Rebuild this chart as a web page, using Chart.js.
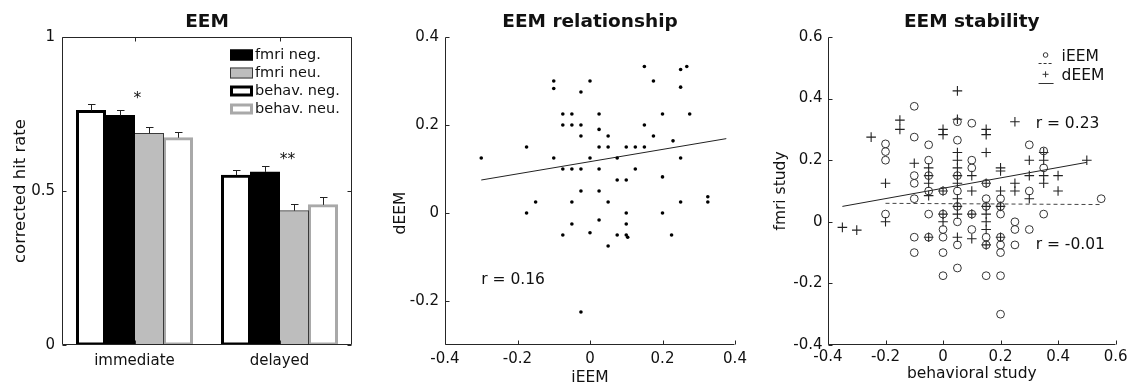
<!DOCTYPE html>
<html>
<head>
<meta charset="utf-8">
<script src="https://cdn.jsdelivr.net/npm/chart.js@4.4.1/dist/chart.umd.min.js"></script>
<style>
  body { margin: 0; background: #fff; }
  #wrap { position: relative; width: 1131px; height: 387px; }
  canvas { position: absolute; top: 0; }
</style>
</head>
<body>
<div id="wrap">
  <canvas id="eem" width="377" height="387" style="left:0"></canvas>
  <canvas id="rel" width="377" height="387" style="left:377px"></canvas>
  <canvas id="stab" width="377" height="387" style="left:754px"></canvas>
</div>
<script>
// --- panel 1: EEM bars
const groups = ['immediate', 'delayed']
const behavNeg = [0.761, 0.551]
const fmriNeg = [0.745, 0.562]
const fmriNeu = [0.687, 0.436]
const behavNeu = [0.673, 0.455]
const behavNegErr = [0.021, 0.017]
const fmriNegErr = [0.019, 0.019]
const fmriNeuErr = [0.020, 0.023]
const behavNeuErr = [0.020, 0.026]
const eemTicks = [0, 0.5, 1]
const starText = ['*', '**']
const starX = [0.02, 1.055]
const starY = [0.8, 0.6]

// --- panel 2: EEM relationship
const relX = [-0.3, -0.175, -0.175, -0.15, -0.1, -0.1, -0.1, -0.075, -0.075, -0.075, -0.075,
  -0.05, -0.05, -0.05, -0.05, -0.05, -0.025, -0.025, -0.025, -0.025, -0.025, -0.025,
  0, 0, 0, 0.025, 0.025, 0.025, 0.025, 0.025, 0.025, 0.05, 0.05, 0.05, 0.05,
  0.075, 0.075, 0.075, 0.1, 0.1, 0.1, 0.1, 0.1, 0.104, 0.125, 0.125, 0.15, 0.15, 0.15,
  0.175, 0.175, 0.2, 0.2, 0.2, 0.225, 0.229, 0.25, 0.267, 0.25, 0.25, 0.25, 0.275, 0.325, 0.325]
const relY = [0.125, 0.15, 0, 0.025, 0.3, 0.283, 0.125, 0.225, 0.2, 0.1, -0.05,
  0.225, 0.2, 0.1, 0.025, -0.025, 0.275, 0.2, 0.175, 0.1, 0.05, -0.225,
  0.3, 0.125, -0.045, 0.225, 0.19, 0.15, 0.1, 0.05, -0.016, 0.175, 0.15, 0.025, -0.075,
  0.125, 0.075, -0.05, 0.15, 0.075, 0, -0.025, -0.05, -0.055, 0.15, 0.1, 0.333, 0.2, 0.15,
  0.3, 0.175, 0.225, 0.082, 0, -0.05, 0.164, 0.326, 0.333, 0.286, 0.125, 0.025, 0.225, 0.037, 0.025]
const relFitX = [-0.3, 0.376]
const relFitY = [0.075, 0.169]
const relXTicks = [-0.4, -0.2, 0, 0.2, 0.4]
const relYTicks = [-0.2, 0, 0.2, 0.4]

// --- panel 3: EEM stability
const stabIX = [-0.2, -0.2, -0.2, -0.2,
  -0.1, -0.1, -0.1, -0.1, -0.1, -0.1, -0.1,
  -0.05, -0.05, -0.05, -0.05, -0.05, -0.05,
  0, 0, 0, 0, 0, 0,
  0.05, 0.05, 0.05, 0.05, 0.05, 0.05, 0.05, 0.05,
  0.1, 0.1, 0.1, 0.1, 0.1,
  0.15, 0.15, 0.15, 0.15, 0.15, 0.15,
  0.2, 0.2, 0.2, 0.2, 0.2, 0.2, 0.2, 0.2,
  0.25, 0.25, 0.25, 0.3, 0.3, 0.3, 0.35, 0.35, 0.35, 0.55]
const stabIY = [0.253, 0.228, 0.2, 0.025,
  0.375, 0.275, 0.15, 0.125, 0.075, -0.05, -0.1,
  0.25, 0.2, 0.15, 0.1, 0.025, -0.05,
  0.1, 0.025, -0.025, -0.05, -0.1, -0.175,
  0.325, 0.265, 0.15, 0.1, 0.05, 0, -0.075, -0.15,
  0.32, 0.2, 0.175, 0.025, -0.025,
  0.125, 0.075, 0.05, -0.05, -0.075, -0.175,
  0.075, 0.05, 0.025, -0.05, -0.075, -0.1, -0.175, -0.3,
  0, -0.025, -0.075, 0.25, 0.1, -0.025, 0.23, 0.175, 0.025, 0.075]
const stabDX = [-0.35, -0.3, -0.25, -0.2, -0.2, -0.15, -0.15, -0.1,
  -0.05, -0.05, -0.05, -0.05, -0.05,
  0, 0, 0, 0, 0,
  0.05, 0.05, 0.05, 0.05, 0.05, 0.05, 0.05, 0.05, 0.05, 0.05, 0.05,
  0.1, 0.1, 0.1, 0.1,
  0.15, 0.15, 0.15, 0.15, 0.15, 0.15, 0.15, 0.15, 0.15,
  0.2, 0.2, 0.2, 0.2, 0.2,
  0.25, 0.25, 0.25, 0.3, 0.3, 0.3, 0.35, 0.35, 0.35, 0.35, 0.4, 0.4, 0.5]
const stabDY = [-0.018, -0.027, 0.275, 0.125, 0, 0.33, 0.3, 0.19,
  0.175, 0.15, 0.125, 0.085, -0.05,
  0.3, 0.283, 0.1, 0.025, 0,
  0.425, 0.333, 0.225, 0.2, 0.175, 0.15, 0.125, 0.075, 0.05, 0.025, -0.05,
  0.15, 0.1, 0.025, -0.055,
  0.3, 0.283, 0.225, 0.125, 0.05, 0.025, 0, -0.025, -0.075,
  0.175, 0.165, 0.1, 0.05, -0.05,
  0.325, 0.125, 0.1, 0.2, 0.15, 0.075, 0.225, 0.2, 0.15, 0.125, 0.15, 0.1, 0.2]
const stabFitIX = [-0.2, 0.55]
const stabFitIY = [0.06, 0.056]
const stabFitDX = [-0.35, 0.5]
const stabFitDY = [0.05, 0.193]
const stabTicks = [-0.4, -0.2, 0, 0.2, 0.4, 0.6]

const FONT = "'DejaVu Sans', sans-serif"
const INK = '#111'
Chart.defaults.font.family = FONT
Chart.defaults.color = INK
Chart.defaults.animation = false
Chart.defaults.plugins.legend.display = false
Chart.defaults.plugins.tooltip.enabled = false

const pts = (xs, ys) => xs.map((x, i) => ({x: x, y: ys[i]}))

// matlab-like axes, error bars, text notes and legends
const matlab = {
  id: 'matlab',
  afterDatasetsDraw(chart) {
    const {ctx, scales: {y}} = chart
    ctx.save()
    ctx.strokeStyle = '#222'
    ctx.lineWidth = 1
    chart.data.datasets.forEach((ds, di) => {
      if (!ds.errors) return
      chart.getDatasetMeta(di).data.forEach((bar, i) => {
        const bx = Math.round(bar.x) + 0.5
        const top = Math.round(y.getPixelForValue(ds.data[i] + ds.errors[i])) + 0.5
        ctx.beginPath()
        ctx.moveTo(bx, bar.y)
        ctx.lineTo(bx, top)
        ctx.moveTo(bx - 3.5, top)
        ctx.lineTo(bx + 4, top)
        ctx.stroke()
      })
    })
    ctx.restore()
  },
  afterDraw(chart, args, o) {
    const {ctx, chartArea: a, scales: {x, y}} = chart
    ctx.save()
    ctx.strokeStyle = '#262626'
    ctx.lineWidth = 1
    const L = Math.floor(a.left) + 0.5, R = Math.ceil(a.right) - 0.5
    const T = Math.floor(a.top) + 0.5, B = Math.ceil(a.bottom) - 0.5
    const tl = 4
    ctx.beginPath()
    ctx.moveTo(L, T); ctx.lineTo(L, B); ctx.lineTo(R, B)
    if (o.box) { ctx.lineTo(R, T); ctx.lineTo(L, T) }
    x.ticks.forEach((t, i) => {
      const px = Math.round(x.getPixelForTick(i)) + 0.5
      ctx.moveTo(px, B); ctx.lineTo(px, B - tl)
      if (o.box) { ctx.moveTo(px, T); ctx.lineTo(px, T + tl) }
    })
    y.ticks.forEach((t, i) => {
      const py = Math.round(y.getPixelForTick(i)) + 0.5
      ctx.moveTo(L, py); ctx.lineTo(L + tl, py)
      if (o.box) { ctx.moveTo(R, py); ctx.lineTo(R - tl, py) }
    })
    ctx.stroke()

    ctx.fillStyle = INK
    ctx.textBaseline = 'middle';
    (o.notes || []).forEach(n => {
      ctx.font = n.font || '15.5px ' + FONT
      ctx.textAlign = n.align || 'left'
      const px = n.px !== undefined ? n.px : x.getPixelForValue(n.x)
      const py = y.getPixelForValue(n.y)
      ctx.save()
      ctx.translate(px, py)
      if (n.rot) ctx.rotate(-Math.PI / 2)
      ctx.fillText(n.text, 0, 0)
      ctx.restore()
    })
    if (o.legend) o.legend(chart, ctx, a)
    ctx.restore()
  }
}

function linScale(min, max, ticks, opts) {
  return {
    type: 'linear', min: min, max: max,
    grid: {display: false, drawTicks: false},
    border: {display: false},
    afterBuildTicks: s => { s.ticks = ticks.map(v => ({value: v})) },
    ticks: {
      callback: v => String(v), autoSkip: false, maxRotation: 0,
      font: {size: 15}, color: INK, padding: opts.pad
    },
    title: opts.title || {display: false},
    afterFit: opts.fit
  }
}

const titleFont = {size: 18.5, weight: 'bold', family: FONT}
const titleOpts = text => ({
  display: true, text: text, fullSize: false, font: titleFont, color: INK,
  padding: {top: 11, bottom: 3.8}
})

// ---------- panel 1
const legendOrder = [1, 2, 0, 3]
new Chart(document.getElementById('eem'), {
  type: 'bar',
  data: {
    labels: groups,
    datasets: [
      {label: 'behav. neg.', data: behavNeg, errors: behavNegErr, backgroundColor: '#fff', borderColor: '#000', borderWidth: 3},
      {label: 'fmri neg.', data: fmriNeg, errors: fmriNegErr, backgroundColor: '#000', borderColor: '#000', borderWidth: 1},
      {label: 'fmri neu.', data: fmriNeu, errors: fmriNeuErr, backgroundColor: '#bdbdbd', borderColor: '#3a3a3a', borderWidth: 1},
      {label: 'behav. neu.', data: behavNeu, errors: behavNeuErr, backgroundColor: '#fff', borderColor: '#a9a9a9', borderWidth: 3}
    ]
  },
  options: {
    responsive: false,
    layout: {padding: {left: 0, right: 25, top: 0, bottom: 0}},
    datasets: {bar: {categoryPercentage: 0.8, barPercentage: 1, borderSkipped: false, inflateAmount: 0.5}},
    scales: {
      x: {
        grid: {display: false, drawTicks: false},
        border: {display: false},
        ticks: {font: {size: 15}, color: INK, padding: 7.5, maxRotation: 0},
        afterFit: s => { s.height = 42 }
      },
      y: linScale(0, 1, eemTicks, {
        pad: 7,
        title: {display: true, text: 'corrected hit rate', font: {size: 16.5}, color: INK, padding: {top: 10.9, bottom: 0}},
        fit: s => { s.width = 62 }
      })
    },
    plugins: {
      title: titleOpts('EEM'),
      matlab: {
        box: true,
        notes: starText.map((t, i) => ({text: t, x: starX[i], y: starY[i], align: 'center'})),
        legend(chart, ctx, a) {
          ctx.font = '14.5px ' + FONT
          ctx.textAlign = 'left'
          ctx.textBaseline = 'middle'
          legendOrder.forEach((di, k) => {
            const ds = chart.data.datasets[di]
            const cy = Math.round(a.top + 17.5 + k * 18.3)
            const sx = a.right - 122, sw = 23, sh = 11
            const bw = ds.borderWidth
            ctx.fillStyle = ds.backgroundColor
            ctx.fillRect(sx, cy - sh / 2, sw, sh)
            ctx.lineWidth = bw
            ctx.strokeStyle = ds.borderColor
            ctx.strokeRect(sx + bw / 2, cy - sh / 2 + bw / 2, sw - bw, sh - bw)
            ctx.fillStyle = INK
            ctx.fillText(ds.label, sx + sw + 2, cy)
          })
        }
      }
    }
  },
  plugins: [matlab]
})

// ---------- panel 2
new Chart(document.getElementById('rel'), {
  type: 'scatter',
  data: {
    datasets: [
      {data: pts(relX, relY), pointRadius: 1.8, backgroundColor: '#000', borderWidth: 0},
      {data: pts(relFitX, relFitY), showLine: true, pointRadius: 0, borderColor: '#222', borderWidth: 1}
    ]
  },
  options: {
    responsive: false,
    layout: {padding: {left: 0, right: 19, top: 0, bottom: 0}},
    scales: {
      x: linScale(-0.4, 0.4, relXTicks, {
        pad: 4.7,
        title: {display: true, text: 'iEEM', font: {size: 15.5}, color: INK, padding: {top: 0, bottom: 0}},
        fit: s => { s.height = 42 }
      }),
      y: linScale(-0.3, 0.4, relYTicks, {pad: 6, fit: s => { s.width = 68 }})
    },
    plugins: {
      title: titleOpts('EEM relationship'),
      matlab: {
        notes: [
          {text: 'r = 0.16', x: -0.3, y: -0.153},
          {text: 'dEEM', px: 24, y: 0, rot: true, align: 'center'}
        ]
      }
    }
  },
  plugins: [matlab]
})

// ---------- panel 3
new Chart(document.getElementById('stab'), {
  type: 'scatter',
  data: {
    datasets: [
      {label: 'iEEM', data: pts(stabIX, stabIY), pointStyle: 'circle', pointRadius: 3.9,
        backgroundColor: 'rgba(0,0,0,0)', borderColor: '#333', borderWidth: 1},
      {label: 'dEEM', data: pts(stabDX, stabDY), pointStyle: 'cross', pointRadius: 4.8,
        borderColor: '#222', borderWidth: 1.1},
      {data: pts(stabFitIX, stabFitIY), showLine: true, pointRadius: 0, borderColor: '#444', borderWidth: 1, borderDash: [4, 3]},
      {data: pts(stabFitDX, stabFitDY), showLine: true, pointRadius: 0, borderColor: '#222', borderWidth: 1}
    ]
  },
  options: {
    responsive: false,
    layout: {padding: {left: 0, right: 14, top: 0, bottom: 0}},
    scales: {
      x: linScale(-0.4, 0.6, stabTicks, {
        pad: 3.5,
        title: {display: true, text: 'behavioral study', font: {size: 15.5}, color: INK, padding: {top: 0, bottom: 3.5}},
        fit: s => { s.height = 42 }
      }),
      y: linScale(-0.4, 0.6, stabTicks, {
        pad: 5.5,
        title: {display: true, text: 'fmri study', font: {size: 15.5}, color: INK, padding: {top: 17.5, bottom: 0}},
        fit: s => { s.width = 74 }
      })
    },
    plugins: {
      title: titleOpts('EEM stability'),
      matlab: {
        notes: [
          {text: 'r = 0.23', x: 0.322, y: 0.317},
          {text: 'r = -0.01', x: 0.322, y: -0.075}
        ],
        legend(chart, ctx, a) {
          ctx.font = '15.5px ' + FONT
          ctx.textAlign = 'left'
          ctx.textBaseline = 'middle'
          ctx.strokeStyle = '#333'
          ctx.lineWidth = 1
          const mx = a.right - 70
          ;[0, 1].forEach(k => {
            const ty = a.top + 19.7 + k * 19.3
            const my = ty - 1.7, ly = Math.round(ty + 6.6) + 0.5
            ctx.beginPath()
            if (k === 0) ctx.arc(mx, my, 2.3, 0, Math.PI * 2)
            else { ctx.moveTo(mx - 3, my); ctx.lineTo(mx + 3, my); ctx.moveTo(mx, my - 3); ctx.lineTo(mx, my + 3) }
            ctx.stroke()
            ctx.setLineDash(k === 0 ? [3, 2] : [])
            ctx.beginPath()
            ctx.moveTo(a.right - 77, ly); ctx.lineTo(a.right - 62, ly)
            ctx.stroke()
            ctx.setLineDash([])
            ctx.fillStyle = INK
            ctx.fillText(chart.data.datasets[k].label, a.right - 54, ty)
          })
        }
      }
    }
  },
  plugins: [matlab]
})
</script>
</body>
</html>
